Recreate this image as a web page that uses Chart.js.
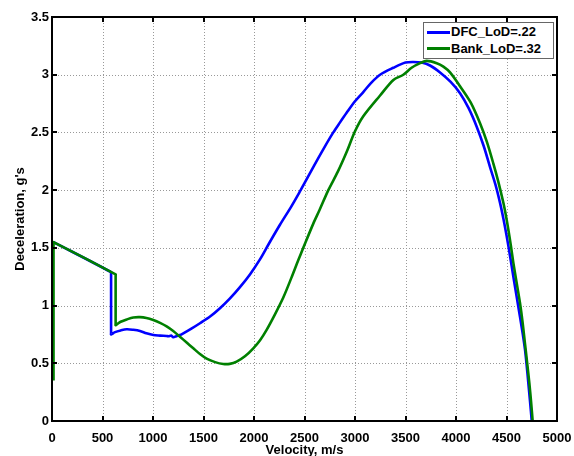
<!DOCTYPE html>
<html>
<head>
<meta charset="utf-8">
<script src="https://cdn.jsdelivr.net/npm/chart.js@4/dist/chart.umd.min.js"></script>
<style>
  html, body { margin: 0; padding: 0; background: #fff; }
  body { position: relative; width: 574px; height: 456px; }
  canvas { display: block; }
  #legend { position: absolute; left: 423px; top: 22px; width: 131px; height: 37px; box-sizing: border-box;
            border: 1px solid #666; background: #fff; }
  #legend .sw { position: absolute; left: 3px; width: 23px; height: 3px; }
  #legend .tx { position: absolute; left: 27px; height: 16px; line-height: 16px; white-space: nowrap;
                font: bold 13px 'Liberation Sans', Arial, Helvetica, sans-serif; color: #000; }
</style>
</head>
<body>
<canvas id="c" width="574" height="456"></canvas>
<div id="legend"></div>
<script>
// ---- data (velocity m/s, deceleration g's) ----
const xTicksMax = 5000;
const xTickStep = 500;
const yTicksMax = 3.5;
const yTickStep = 0.5;

const dfcLabel = 'DFC_LoD=.22';
const dfcVelocity = [4750, 4733, 4716, 4700, 4683, 4660, 4634, 4600, 4568, 4535, 4502, 4470, 4436, 4390, 4337, 4275, 4205, 4125, 4040, 3945, 3842, 3743, 3660, 3578, 3500, 3380, 3248, 3160, 3082, 3000, 2917, 2850, 2785, 2690, 2587, 2500, 2462, 2370, 2257, 2150, 2059, 1960, 1861, 1760, 1663, 1565, 1465, 1380, 1300, 1267, 1230, 1201, 1180, 1160, 1135, 1070, 1003, 935, 871, 805, 740, 680, 624, 585, 585, 585, 585, 15];
const dfcDecel    = [0.00, 0.17, 0.33, 0.48, 0.62, 0.76, 0.90, 1.08, 1.25, 1.43, 1.60, 1.75, 1.89, 2.05, 2.20, 2.38, 2.55, 2.71, 2.84, 2.94, 3.02, 3.08, 3.105, 3.11, 3.105, 3.06, 3.00, 2.93, 2.85, 2.77, 2.67, 2.585, 2.50, 2.36, 2.20, 2.06, 2.00, 1.86, 1.70, 1.54, 1.40, 1.27, 1.16, 1.06, 0.977, 0.905, 0.847, 0.80, 0.76, 0.745, 0.735, 0.725, 0.74, 0.735, 0.736, 0.74, 0.745, 0.76, 0.78, 0.79, 0.795, 0.785, 0.77, 0.75, 0.76, 1.28, 1.29, 1.55];

const bankLabel = 'Bank_LoD=.32';
const bankVelocity = [4759, 4743, 4726, 4705, 4683, 4660, 4634, 4600, 4568, 4543, 4518, 4494, 4469, 4420, 4370, 4305, 4238, 4145, 4040, 3941, 3875, 3809, 3710, 3644, 3560, 3478, 3380, 3248, 3082, 3000, 2917, 2830, 2736, 2650, 2587, 2488, 2439, 2370, 2290, 2205, 2125, 2060, 1993, 1910, 1828, 1760, 1696, 1615, 1531, 1465, 1399, 1333, 1267, 1200, 1135, 1070, 1003, 935, 871, 805, 740, 680, 630, 630, 630, 630, 15, 15, 15];
const bankDecel    = [0.00, 0.17, 0.33, 0.50, 0.67, 0.85, 1.02, 1.20, 1.37, 1.52, 1.66, 1.78, 1.89, 2.07, 2.23, 2.42, 2.58, 2.76, 2.90, 3.02, 3.07, 3.10, 3.12, 3.10, 3.06, 3.00, 2.955, 2.82, 2.64, 2.51, 2.33, 2.16, 2.00, 1.83, 1.71, 1.50, 1.395, 1.24, 1.07, 0.92, 0.79, 0.70, 0.63, 0.56, 0.514, 0.495, 0.494, 0.51, 0.54, 0.58, 0.63, 0.68, 0.73, 0.78, 0.82, 0.85, 0.875, 0.893, 0.90, 0.897, 0.88, 0.86, 0.83, 0.84, 1.26, 1.27, 1.55, 1.54, 0.35];

const toPoints = (xs, ys) => xs.map((v, i) => ({ x: v, y: ys[i] }));
const FONT = "'Liberation Sans', Arial, Helvetica, sans-serif";
const tickFont = { family: FONT, weight: 'bold', size: 13 };
const solidBorder = { display: true, color: '#000000', width: 2 };

const framePlugin = {
  id: 'frame',
  beforeDatasetsDraw(chart) {
    const ctx = chart.ctx, xs = chart.scales.x, ys = chart.scales.y;
    const top = ys.getPixelForValue(yTicksMax), bottom = ys.getPixelForValue(0);
    const left = xs.getPixelForValue(0), right = xs.getPixelForValue(xTicksMax);
    ctx.save();
    ctx.strokeStyle = '#999999';
    ctx.lineWidth = 1;
    ctx.setLineDash([1, 2]);
    for (let v = xTickStep; v < xTicksMax; v += xTickStep) {
      const p = Math.round(xs.getPixelForValue(v)) + 0.5;
      ctx.beginPath(); ctx.moveTo(p, top); ctx.lineTo(p, bottom); ctx.stroke();
    }
    for (let v = yTickStep; v < yTicksMax - 1e-9; v += yTickStep) {
      const p = Math.round(ys.getPixelForValue(v)) + 0.5;
      ctx.beginPath(); ctx.moveTo(left, p); ctx.lineTo(right, p); ctx.stroke();
    }
    ctx.restore();
  },
  afterDraw(chart) {
    const ctx = chart.ctx, xs = chart.scales.x, ys = chart.scales.y;
    const top = ys.getPixelForValue(yTicksMax), bottom = ys.getPixelForValue(0);
    const left = xs.getPixelForValue(0), right = xs.getPixelForValue(xTicksMax);
    ctx.save();
    ctx.setLineDash([]);
    ctx.strokeStyle = '#000000';
    ctx.lineWidth = 2;
    ctx.beginPath();
    ctx.moveTo(left, top); ctx.lineTo(right, top); ctx.lineTo(right, bottom);
    ctx.lineTo(left, bottom); ctx.closePath();
    ctx.stroke();
    const L = 5;
    for (let v = 0; v <= xTicksMax; v += xTickStep) {
      const p = Math.round(xs.getPixelForValue(v));
      ctx.beginPath(); ctx.moveTo(p, bottom); ctx.lineTo(p, bottom - L); ctx.stroke();
      ctx.beginPath(); ctx.moveTo(p, top); ctx.lineTo(p, top + L); ctx.stroke();
    }
    for (let v = 0; v <= yTicksMax + 1e-9; v += yTickStep) {
      const p = Math.round(ys.getPixelForValue(v));
      ctx.beginPath(); ctx.moveTo(left, p); ctx.lineTo(left + L, p); ctx.stroke();
      ctx.beginPath(); ctx.moveTo(right, p); ctx.lineTo(right - L, p); ctx.stroke();
    }
    ctx.restore();
  }
};

const chart = new Chart(document.getElementById('c'), {
  type: 'scatter',
  data: {
    datasets: [
      { label: dfcLabel, data: toPoints(dfcVelocity, dfcDecel), showLine: true,
        borderColor: '#0000ff', borderWidth: 2.6, pointRadius: 0, tension: 0.3, order: 1 },
      { label: bankLabel, data: toPoints(bankVelocity, bankDecel), showLine: true,
        borderColor: '#008000', borderWidth: 2.6, pointRadius: 0, tension: 0.3, order: 0 }
    ]
  },
  options: {
    responsive: false,
    animation: false,
    layout: { padding: { top: 17, right: 17, left: 0, bottom: 0 } },
    plugins: { legend: { display: false }, tooltip: { enabled: false } },
    scales: {
      x: {
        type: 'linear', position: 'bottom', min: 0, max: xTicksMax,
        grid: { display: false, drawTicks: false },
        border: solidBorder,
        ticks: { stepSize: xTickStep, autoSkip: false, maxRotation: 0, color: '#000', padding: 10,
                 font: tickFont, callback: v => String(v) },
        title: { display: true, text: 'Velocity, m/s', color: '#000',
                 font: { family: FONT, weight: 'bold', size: 13, lineHeight: 0.8 },
                 padding: { top: 0, bottom: 0 } },
        afterFit(s) { s.height = 35; s.paddingLeft = 0; s.paddingRight = 0; }
      },
      y: {
        type: 'linear', position: 'left', min: 0, max: yTicksMax,
        grid: { display: false, drawTicks: false },
        border: solidBorder,
        ticks: { stepSize: yTickStep, autoSkip: false, color: '#000', padding: 3,
                 font: tickFont, callback: v => String(v) },
        title: { display: true, text: "Deceleration, g's", color: '#000',
                 font: { family: FONT, weight: 'bold', size: 13, lineHeight: 1.2 },
                 padding: { top: 13, bottom: 0 } },
        afterFit(s) { s.width = 52; s.paddingTop = 0; s.paddingBottom = 0; }
      }
    }
  },
  plugins: [framePlugin]
});

// HTML legend built from the chart's own datasets
const legendEl = document.getElementById('legend');
chart.data.datasets.forEach((ds, i) => {
  const cy = 9 + i * 16.5;
  const sw = document.createElement('span');
  sw.className = 'sw';
  sw.style.top = (cy - 1.5) + 'px';
  sw.style.background = ds.borderColor;
  const tx = document.createElement('span');
  tx.className = 'tx';
  tx.style.top = (cy - 8) + 'px';
  tx.textContent = ds.label;
  legendEl.appendChild(sw);
  legendEl.appendChild(tx);
});
</script>
</body>
</html>
